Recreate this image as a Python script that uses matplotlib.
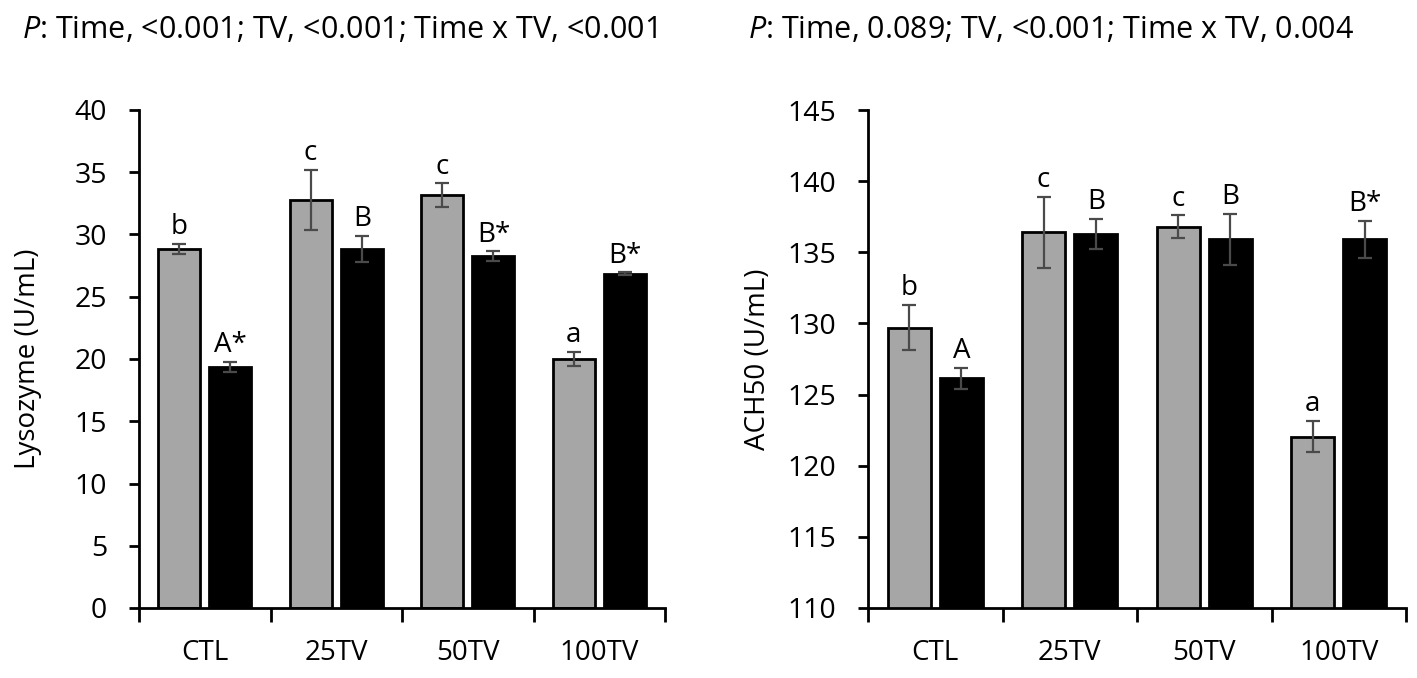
import numpy as np
import matplotlib.pyplot as plt

plt.rcParams['font.family'] = ['Open Sans', 'DejaVu Sans']
plt.rcParams['mathtext.fontset'] = 'custom'
plt.rcParams['mathtext.rm'] = 'Open Sans'
plt.rcParams['mathtext.it'] = 'Open Sans:italic'

categories = ['CTL', '25TV', '50TV', '100TV']

# Lysozyme (U/mL)
lys_gray = [28.85, 32.8, 33.15, 20.0]
lys_gray_err = [0.4, 2.4, 0.95, 0.6]
lys_black = [19.35, 28.85, 28.25, 26.85]
lys_black_err = [0.4, 1.05, 0.4, 0.1]
lys_gray_letters = ['b', 'c', 'c', 'a']
lys_black_letters = ['A*', 'B', 'B*', 'B*']

# ACH50 (U/mL)
ach_gray = [129.7, 136.4, 136.8, 122.05]
ach_gray_err = [1.6, 2.5, 0.8, 1.1]
ach_black = [126.15, 136.3, 135.9, 135.9]
ach_black_err = [0.75, 1.05, 1.8, 1.3]
ach_gray_letters = ['b', 'c', 'c', 'a']
ach_black_letters = ['A', 'B', 'B', 'B*']

titles = ['$\\it{P}$: Time, <0.001; TV, <0.001; Time x TV, <0.001',
          '$\\it{P}$: Time, 0.089; TV, <0.001; Time x TV, 0.004']

fig = plt.figure(figsize=(14.17, 6.78), dpi=100)
ax1 = fig.add_axes([139 / 1417, 1 - 608 / 678, 526 / 1417, 498 / 678])
ax2 = fig.add_axes([868 / 1417, 1 - 608 / 678, 538 / 1417, 498 / 678])

x = np.arange(len(categories))
w = 0.32
off = 0.195
ekw = dict(ecolor='#4a4a4a', elinewidth=1.6, capsize=5, capthick=1.6)


def draw(ax, g, ge, b, be, gl, bl, ylim, ylabel, labx):
    ax.bar(x - off, g, w, yerr=ge, color='#a6a6a6', edgecolor='black',
           linewidth=2, error_kw=ekw, zorder=2)
    ax.bar(x + off, b, w, yerr=be, color='black', edgecolor='black',
           linewidth=2, error_kw=ekw, zorder=2)
    for i in range(len(categories)):
        ax.annotate(gl[i], (x[i] - off, g[i] + ge[i]), xytext=(0, 7),
                    textcoords='offset points', ha='center', va='baseline',
                    fontsize=20)
        ax.annotate(bl[i], (x[i] + off, b[i] + be[i]), xytext=(0, 7),
                    textcoords='offset points', ha='center', va='baseline',
                    fontsize=20)
    ax.set_xlim(-0.5, len(categories) - 0.5)
    ax.set_ylim(*ylim)
    ax.set_yticks(np.arange(ylim[0], ylim[1] + 1, 5))
    ax.set_xticks(np.arange(-0.5, len(categories), 1.0))
    ax.set_xticklabels([])
    ax.set_xticks(x, minor=True)
    ax.set_xticklabels(categories, minor=True)
    ax.tick_params(axis='x', which='major', length=10, width=2, direction='out')
    ax.tick_params(axis='x', which='minor', length=0, pad=22, labelsize=20)
    ax.tick_params(axis='y', length=7, width=2, labelsize=20.5, pad=16)
    for s in ['top', 'right']:
        ax.spines[s].set_visible(False)
    for s in ['left', 'bottom']:
        ax.spines[s].set_linewidth(2)
    ax.set_ylabel(ylabel, fontsize=20, va='center')
    ax.yaxis.set_label_coords(labx, 0.5)


draw(ax1, lys_gray, lys_gray_err, lys_black, lys_black_err,
     lys_gray_letters, lys_black_letters, (0, 40), 'Lysozyme (U/mL)', -0.211)
draw(ax2, ach_gray, ach_gray_err, ach_black, ach_black_err,
     ach_gray_letters, ach_black_letters, (110, 145), 'ACH50 (U/mL)', -0.2045)

fig.text(22 / 1417, 1 - 38 / 678, titles[0], fontsize=22, va='baseline')
fig.text(748 / 1417, 1 - 38 / 678, titles[1], fontsize=22, va='baseline')

fig.savefig('out.png', dpi=100)
